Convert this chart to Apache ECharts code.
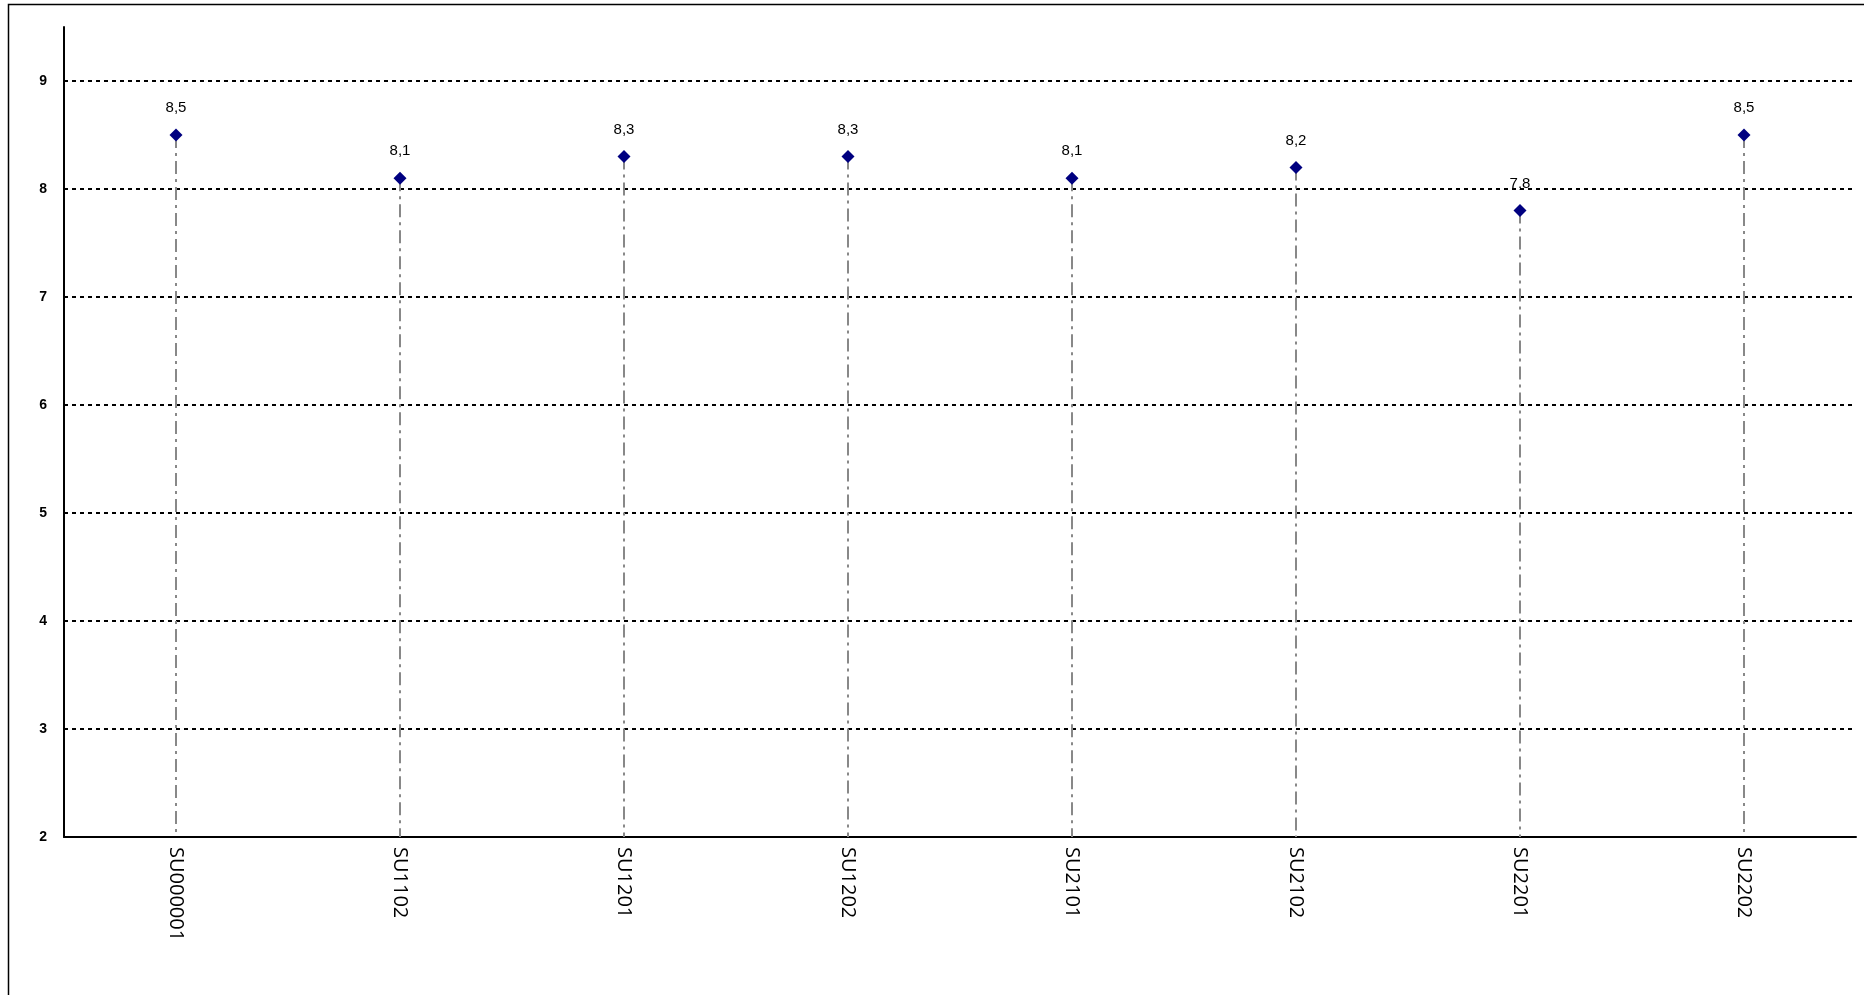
<!DOCTYPE html>
<html>
<head>
<meta charset="utf-8">
<script src="https://cdn.jsdelivr.net/npm/echarts@6/dist/echarts.min.js"></script>
<style>
html,body{margin:0;padding:0;background:#fff;}
#chart{width:1864px;height:995px;}
</style>
</head>
<body>
<div id="chart"></div>
<script>
var categories = ['SU000001', 'SU1102', 'SU1201', 'SU1202', 'SU2101', 'SU2102', 'SU2201', 'SU2202'];
var values = [8.5, 8.1, 8.3, 8.3, 8.1, 8.2, 7.8, 8.5];
var yMin = 2, yMax = 9.5, yInterval = 1;

var chart = echarts.init(document.getElementById('chart'));
chart.setOption({
  animation: false,
  backgroundColor: '#fff',
  graphic: [{
    type: 'rect',
    shape: {x: 8.5, y: 4.5, width: 3000, height: 3000},
    style: {fill: 'none', stroke: '#000', lineWidth: 1.5},
    silent: true,
    z: -10
  }],
  grid: {left: 64, right: 8, top: 27, bottom: 158, containLabel: false},
  xAxis: {
    type: 'category',
    data: categories,
    boundaryGap: true,
    axisLine: {show: true, lineStyle: {color: '#000', width: 2}},
    axisTick: {show: false},
    axisLabel: {
      rotate: -90,
      margin: 10,
      color: '#000',
      fontFamily: 'Open Sans',
      fontSize: 20
    },
    splitLine: {show: false}
  },
  yAxis: {
    type: 'value',
    min: yMin,
    max: yMax,
    interval: yInterval,
    axisLine: {show: true, lineStyle: {color: '#000', width: 2}},
    axisTick: {show: false},
    axisLabel: {
      color: '#000',
      fontFamily: 'Liberation Sans',
      fontWeight: 'bold',
      fontSize: 14,
      margin: 17,
      showMaxLabel: false,
      formatter: function (v) { return Number.isInteger(v) ? String(v) : ''; }
    },
    splitLine: {
      show: true,
      showMinLine: false,
      showMaxLine: false,
      lineStyle: {color: '#000', width: 2, type: [4, 4], opacity: 1}
    }
  },
  series: [
    {
      type: 'custom',
      data: values.map(function (v, i) { return [i, v]; }),
      renderItem: function (params, api) {
        var top = api.coord([api.value(0), api.value(1)]);
        var bottom = api.coord([api.value(0), yMin]);
        return {
          type: 'line',
          shape: {x1: top[0], y1: top[1], x2: bottom[0], y2: bottom[1]},
          style: {stroke: '#888', lineWidth: 2, lineDash: [13, 5, 3, 5]}
        };
      },
      z: 1,
      silent: true
    },
    {
      type: 'scatter',
      data: values,
      symbol: 'diamond',
      symbolSize: [13, 13],
      itemStyle: {color: '#000080', opacity: 1},
      z: 3,
      label: {
        show: true,
        position: 'top',
        distance: 13,
        color: '#000',
        fontFamily: 'Liberation Sans',
        fontSize: 15,
        formatter: function (p) { return String(p.value).replace('.', ','); }
      }
    }
  ]
});
</script>
</body>
</html>
